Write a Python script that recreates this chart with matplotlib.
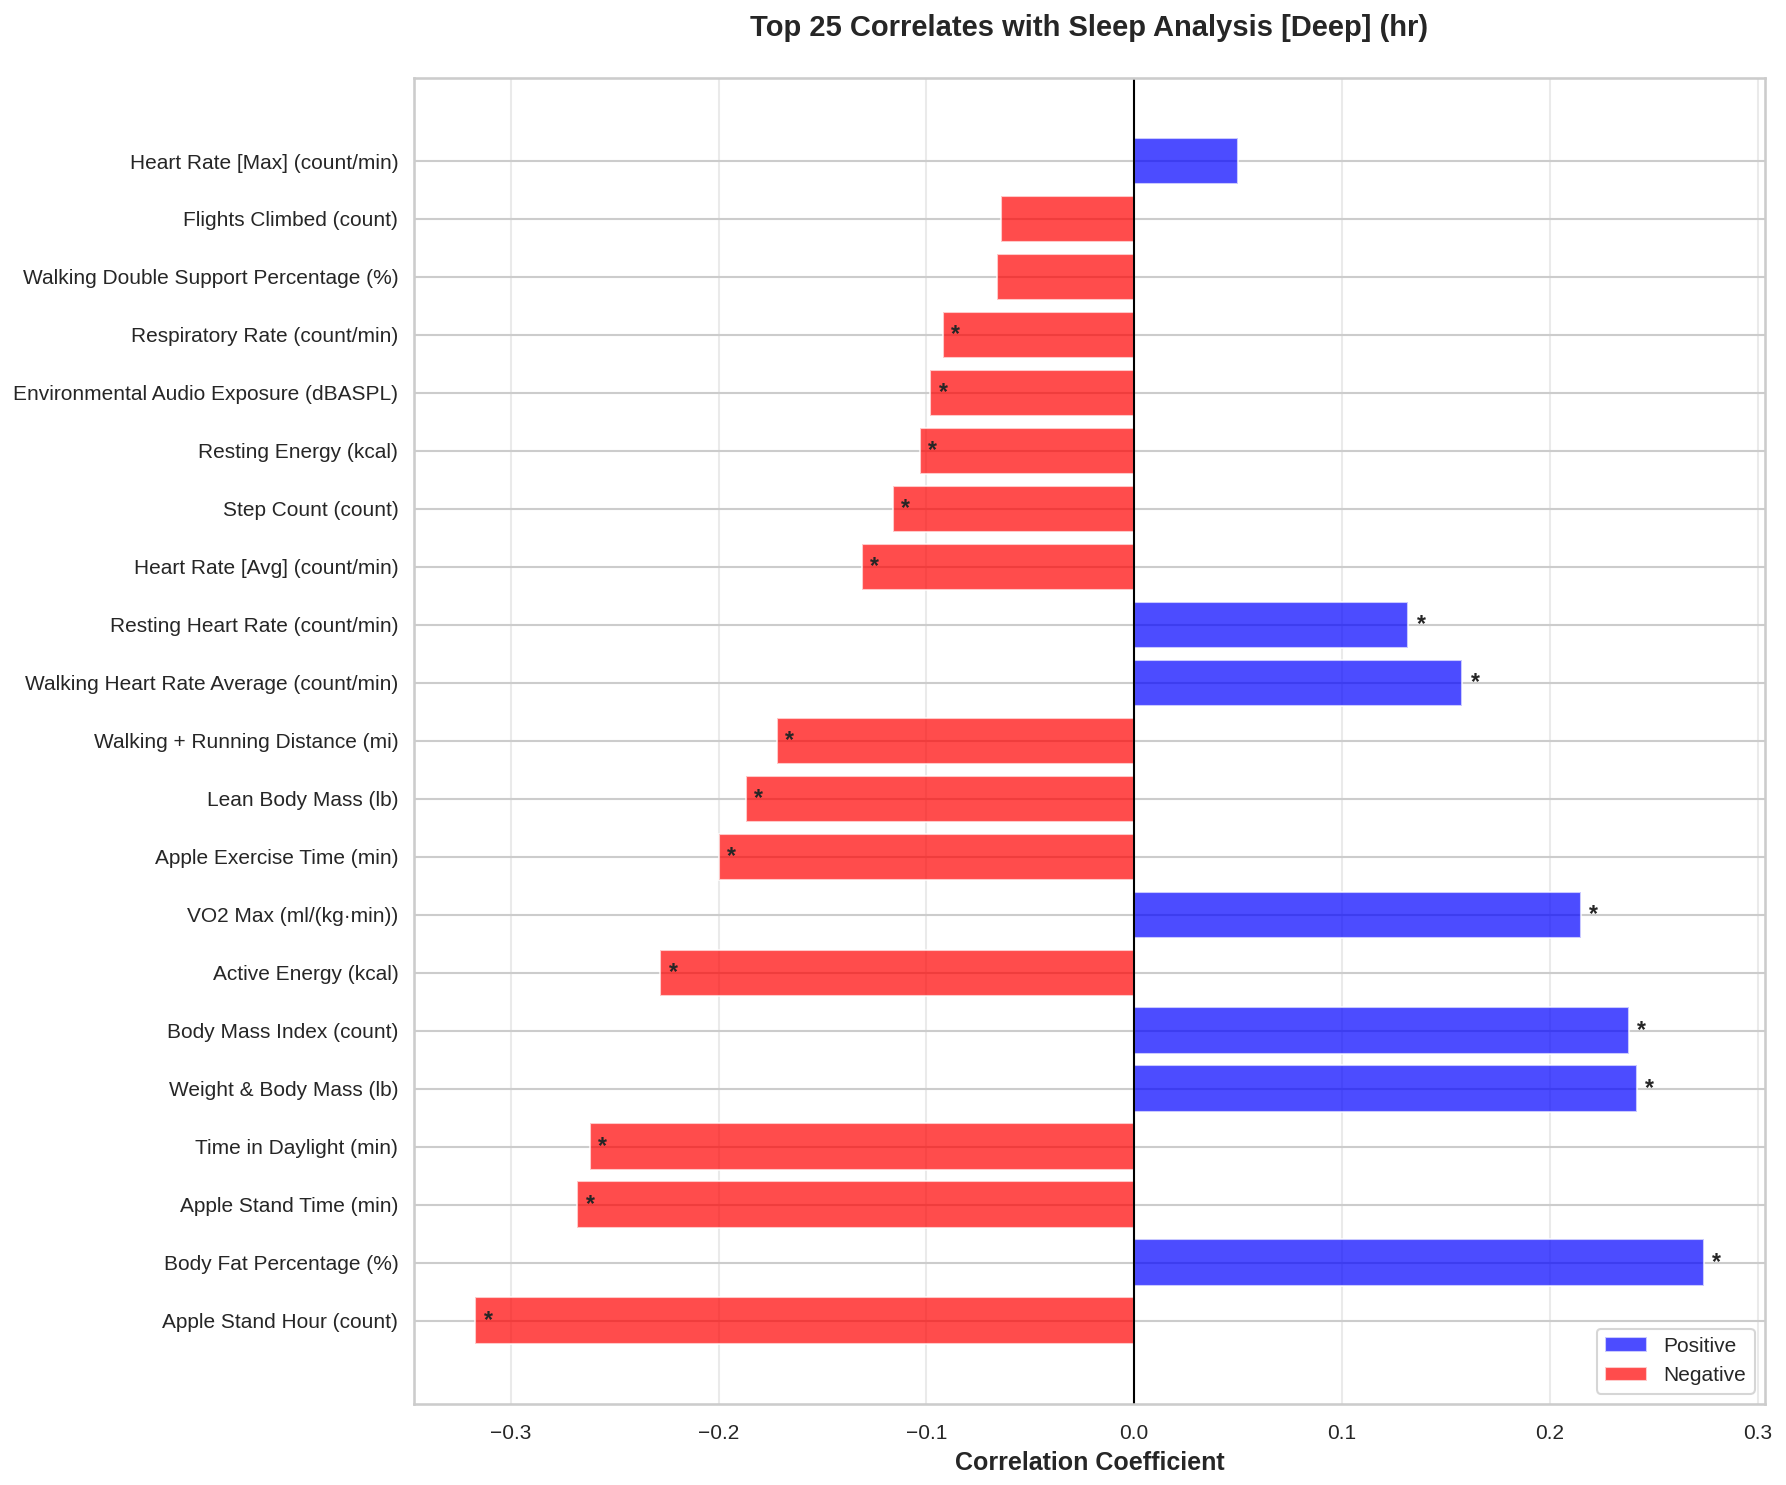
import matplotlib
matplotlib.use("Agg")
import matplotlib.pyplot as plt
from matplotlib.patches import Patch
import seaborn as sns

# correlates, ordered bottom -> top as drawn
labels = [
    "Apple Stand Hour (count)",
    "Body Fat Percentage (%)",
    "Apple Stand Time (min)",
    "Time in Daylight (min)",
    "Weight & Body Mass (lb)",
    "Body Mass Index (count)",
    "Active Energy (kcal)",
    "VO2 Max (ml/(kg\u00b7min))",
    "Apple Exercise Time (min)",
    "Lean Body Mass (lb)",
    "Walking + Running Distance (mi)",
    "Walking Heart Rate Average (count/min)",
    "Resting Heart Rate (count/min)",
    "Heart Rate [Avg] (count/min)",
    "Step Count (count)",
    "Resting Energy (kcal)",
    "Environmental Audio Exposure (dBASPL)",
    "Respiratory Rate (count/min)",
    "Walking Double Support Percentage (%)",
    "Flights Climbed (count)",
    "Heart Rate [Max] (count/min)",
]
corr = [-0.317, 0.274, -0.268, -0.262, 0.242, 0.238, -0.228, 0.215, -0.200,
        -0.187, -0.172, 0.158, 0.132, -0.131, -0.116, -0.103, -0.098, -0.092,
        -0.066, -0.064, 0.050]
significant = [True] * 18 + [False, False, False]

sns.set_theme(style="whitegrid")
plt.rcParams["font.family"] = ["Liberation Sans", "DejaVu Sans"]

fig, ax = plt.subplots(figsize=(1786 / 150, 1485 / 150), dpi=150)
fig.subplots_adjust(left=0.2318, right=0.9882, top=0.9478, bottom=0.0545)

colors = ["blue" if c > 0 else "red" for c in corr]
ypos = list(range(len(labels)))
ax.barh(ypos, corr, color=colors, alpha=0.7, height=0.8)

for y, c, sig in zip(ypos, corr, significant):
    if sig:
        ax.text(c + 0.004, y, "*", va="center", ha="left", fontsize=11,
                fontweight="bold", color="#262626")

ax.axvline(0, color="black", linewidth=1)
ax.set_yticks(ypos)
ax.set_yticklabels(labels, fontsize=10)
ax.tick_params(axis="y", pad=1.5)
ax.tick_params(axis="x", labelsize=10)
ax.set_xlabel("Correlation Coefficient", fontsize=12, fontweight="bold")
ax.set_title("Top 25 Correlates with Sleep Analysis [Deep] (hr)",
             fontsize=14, fontweight="bold", pad=20)
ax.grid(axis="x", alpha=0.4)

handles = [Patch(facecolor="blue", alpha=0.7, label="Positive"),
           Patch(facecolor="red", alpha=0.7, label="Negative")]
ax.legend(handles=handles, loc="lower right", fontsize=10)

fig.savefig("out.png", dpi=150)
